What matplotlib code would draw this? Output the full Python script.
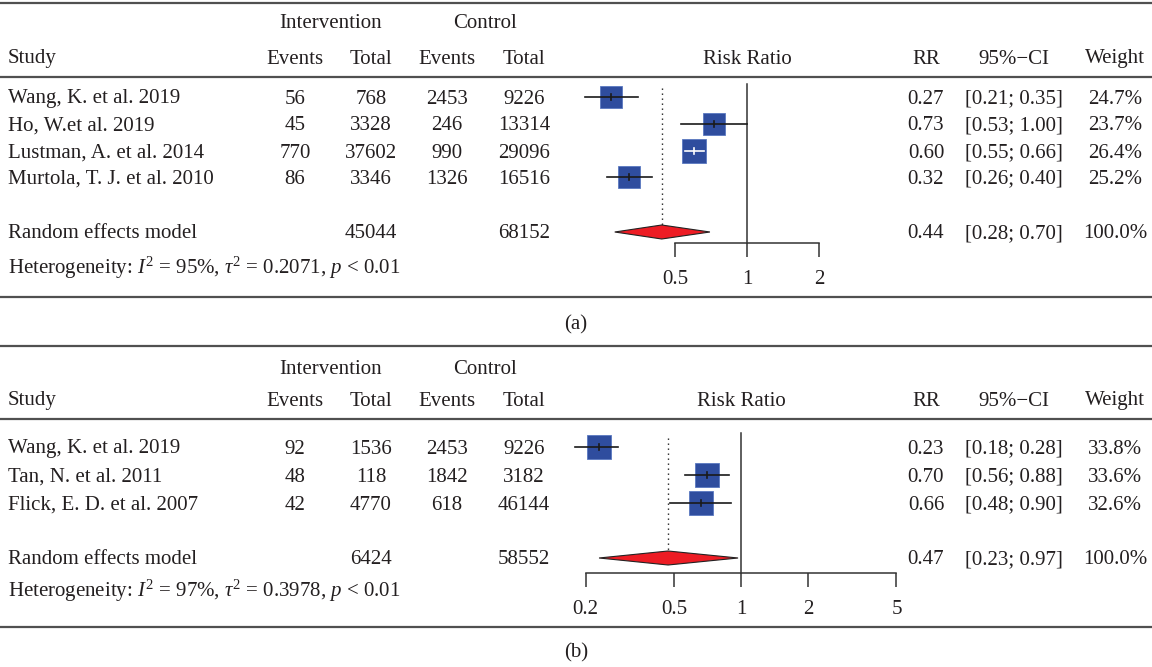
import numpy as np
import matplotlib
matplotlib.use("Agg")
import matplotlib.pyplot as plt

plt.rcParams["font.family"] = ["Liberation Serif", "DejaVu Serif"]
plt.rcParams["mathtext.fontset"] = "custom"
plt.rcParams["mathtext.rm"] = "Liberation Serif"
plt.rcParams["mathtext.it"] = "Liberation Serif:italic"

# ---- panel (a) data ----
studies_a = ["Wang, K. et al. 2019", "Ho, W.et al. 2019",
             "Lustman, A. et al. 2014", "Murtola, T. J. et al. 2010"]
ev_int_a = [56, 45, 770, 86]
tot_int_a = [768, 3328, 37602, 3346]
ev_ctl_a = [2453, 246, 990, 1326]
tot_ctl_a = [9226, 13314, 29096, 16516]
rr_a = [0.27, 0.73, 0.60, 0.32]
lo_a = [0.21, 0.53, 0.55, 0.26]
hi_a = [0.35, 1.00, 0.66, 0.40]
wt_a = [24.7, 23.7, 26.4, 25.2]
pooled_a = [0.44, 0.28, 0.70]
pooled_tot_a = [45044, 68152]
het_a = [95, 0.2071]
ticks_a = [0.5, 1, 2]

# ---- panel (b) data ----
studies_b = ["Wang, K. et al. 2019", "Tan, N. et al. 2011",
             "Flick, E. D. et al. 2007"]
ev_int_b = [92, 48, 42]
tot_int_b = [1536, 118, 4770]
ev_ctl_b = [2453, 1842, 618]
tot_ctl_b = [9226, 3182, 46144]
rr_b = [0.23, 0.70, 0.66]
lo_b = [0.18, 0.56, 0.48]
hi_b = [0.28, 0.88, 0.90]
wt_b = [33.8, 33.6, 32.6]
pooled_b = [0.47, 0.23, 0.97]
pooled_tot_b = [6424, 58552]
het_b = [97, 0.3978]
ticks_b = [0.2, 0.5, 1, 2, 5]

W, H = 1152, 667
fig = plt.figure(figsize=(W / 100, H / 100), dpi=100)
bg = fig.add_axes([0, 0, 1, 1])
bg.set_xlim(0, W)
bg.set_ylim(H, 0)
bg.axis("off")

TXT = "#231f20"
FS = 15
TY = 2  # nudge so glyphs (not their descender box) sit on the row centre
RULE = "#505050"
SQ = "#2f4d9e"
SQ_EDGE = "#5a78c0"
DIAM = "#ed1c24"

# column centres (px)
X_STUDY = 8
X_EV_I, X_TOT_I, X_EV_C, X_TOT_C = 295, 371, 447, 524
X_RR, X_CI, X_WT = 926, 1014, 1115
FX0, FX1 = 560, 900  # horizontal extent of forest axes


def fmt_ci(lo, hi):
    return f"[{lo:.2f}; {hi:.2f}]"


def panel(top, hdr1, hdr2, rule_hdr, rows, pooled_y, het_y, bottom, label_y,
          one_px, px_per_ln, studies, ev_i, tot_i, ev_c, tot_c, rr, lo, hi, wt,
          pooled, ptot, het, ticks, side_ref, ref_top, axis_y, label):
    # horizontal rules
    for y in (top, rule_hdr, bottom):
        bg.plot([0, W], [y, y], color=RULE, lw=1.6, solid_capstyle="butt")

    t = dict(color=TXT, fontsize=FS, va="center")

    def txt(x, y, s, ha="center"):
        bg.text(x, y + TY, s, ha=ha, **t)

    txt((X_EV_I + X_TOT_I) / 2 - 2, hdr1, "Intervention")
    txt((X_EV_C + X_TOT_C) / 2, hdr1, "Control")
    txt(X_STUDY, hdr2, "Study", ha="left")
    for x, s in ((X_EV_I, "Events"), (X_TOT_I, "Total"),
                 (X_EV_C, "Events"), (X_TOT_C, "Total"),
                 (X_RR, "RR"), (X_CI, "95%\u2212CI"), (X_WT, "Weight")):
        txt(x, hdr2, s)
    txt(one_px, hdr2, "Risk Ratio")

    for i, y in enumerate(rows):
        txt(X_STUDY, y, studies[i], ha="left")
        txt(X_EV_I, y, str(ev_i[i]))
        txt(X_TOT_I, y, str(tot_i[i]))
        txt(X_EV_C, y, str(ev_c[i]))
        txt(X_TOT_C, y, str(tot_c[i]))
        txt(X_RR, y, f"{rr[i]:.2f}")
        txt(X_CI, y, fmt_ci(lo[i], hi[i]))
        txt(X_WT, y, f"{wt[i]:.1f}%")

    txt(X_STUDY, pooled_y, "Random effects model", ha="left")
    txt(X_TOT_I, pooled_y, str(ptot[0]))
    txt(X_TOT_C, pooled_y, str(ptot[1]))
    txt(X_RR, pooled_y, f"{pooled[0]:.2f}")
    txt(X_CI, pooled_y, fmt_ci(pooled[1], pooled[2]))
    txt(X_WT, pooled_y, "100.0%")
    txt(X_STUDY, het_y,
        f"Heterogeneity: $I^2$ = {het[0]}%, $\\tau^2$ = {het[1]:.4f}, $p$ < 0.01",
        ha="left")
    txt(W / 2, label_y, label)

    # forest axes on a log scale, aligned to the pixel grid vertically
    ax = fig.add_axes([FX0 / W, 0, (FX1 - FX0) / W, 1])
    ax.set_xscale("log")
    ax.set_xlim(np.exp((FX0 - one_px) / px_per_ln),
                np.exp((FX1 - one_px) / px_per_ln))
    ax.set_ylim(H, 0)
    ax.axis("off")
    ax.patch.set_alpha(0)

    # line of no effect
    ax.plot([1, 1], [ref_top, axis_y], color="#333333", lw=1.1, zorder=1)
    # dotted line at pooled estimate
    ax.plot([pooled[0], pooled[0]], [rows[0] - 9, pooled_y - 7],
            color="#222222", lw=1.0, ls=(0, (1, 2.6)), zorder=1)

    for i, y in enumerate(rows):
        side_px = side_ref * np.sqrt(wt[i] / np.mean(wt))
        ax.plot([rr[i]], [y], marker="s", ms=side_px * 0.72, mfc=SQ,
                mec=SQ_EDGE, mew=0.6, ls="none", zorder=2)
        # CI entirely inside the square is drawn in white
        xl = one_px + px_per_ln * np.log(lo[i])
        xh = one_px + px_per_ln * np.log(hi[i])
        xc = one_px + px_per_ln * np.log(rr[i])
        inside = (xc - xl) < side_px / 2 and (xh - xc) < side_px / 2
        c = "white" if inside else "#1a1a1a"
        ax.plot([lo[i], hi[i]], [y, y], color=c, lw=1.2, zorder=3)
        ax.plot([rr[i], rr[i]], [y - 3, y + 3], color=c, lw=1.2, zorder=3)

    # pooled diamond
    dh = 7
    ax.fill([pooled[1], pooled[0], pooled[2], pooled[0]],
            [pooled_y, pooled_y - dh, pooled_y, pooled_y + dh],
            facecolor=DIAM, edgecolor="#222222", lw=0.8, zorder=3)

    # x axis
    ax.plot([ticks[0], ticks[-1]], [axis_y, axis_y], color="#333333", lw=1.1)
    ax.vlines(ticks, axis_y, axis_y + 14, color="#333333", lw=1.1)
    for tk in ticks:
        ax.text(tk, axis_y + 34 + TY, f"{tk:g}", ha="center", va="center",
                color=TXT, fontsize=FS)


panel(top=3, hdr1=22, hdr2=57, rule_hdr=77, rows=[97, 124, 151, 177],
      pooled_y=232, het_y=266, bottom=297, label_y=323,
      one_px=747, px_per_ln=103.9,
      studies=studies_a, ev_i=ev_int_a, tot_i=tot_int_a, ev_c=ev_ctl_a,
      tot_c=tot_ctl_a, rr=rr_a, lo=lo_a, hi=hi_a, wt=wt_a, pooled=pooled_a,
      ptot=pooled_tot_a, het=het_a, ticks=ticks_a, side_ref=22.5,
      ref_top=84, axis_y=243, label="(a)")

panel(top=346, hdr1=367, hdr2=399, rule_hdr=419, rows=[447, 475, 503],
      pooled_y=558, het_y=589, bottom=627, label_y=651,
      one_px=741, px_per_ln=96.6,
      studies=studies_b, ev_i=ev_int_b, tot_i=tot_int_b, ev_c=ev_ctl_b,
      tot_c=tot_ctl_b, rr=rr_b, lo=lo_b, hi=hi_b, wt=wt_b, pooled=pooled_b,
      ptot=pooled_tot_b, het=het_b, ticks=ticks_b, side_ref=23.5,
      ref_top=433, axis_y=573, label="(b)")

fig.savefig("out.png", dpi=100, facecolor="white")
